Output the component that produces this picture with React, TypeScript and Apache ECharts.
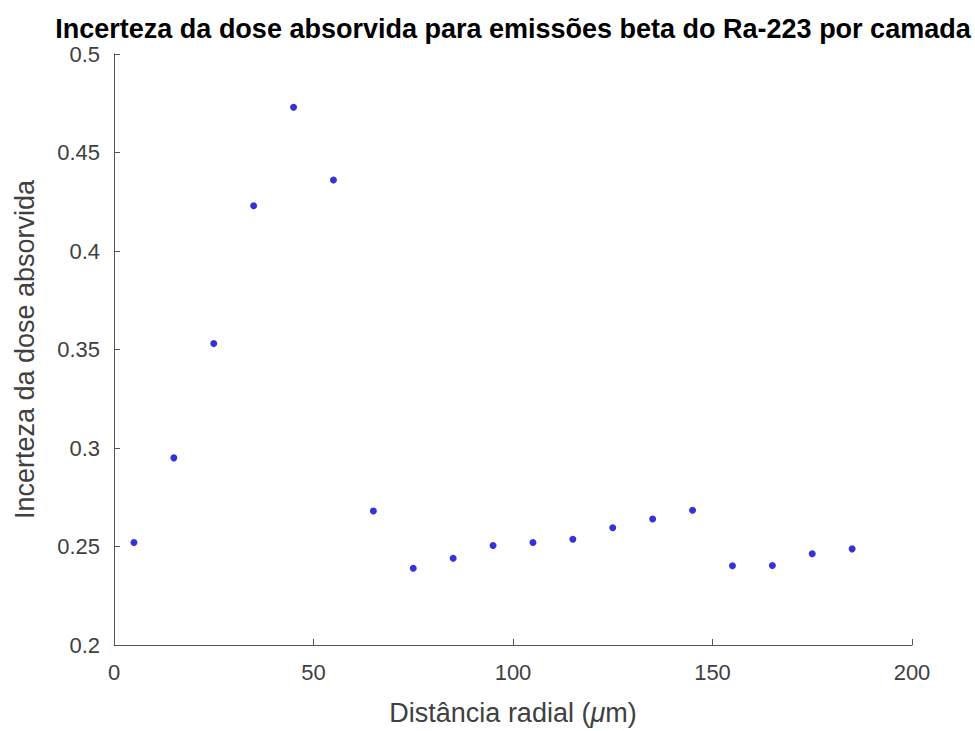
import React, { useEffect, useRef } from "react";
import * as echarts from "echarts";

const distances = [5, 15, 25, 35, 45, 55, 65, 75, 85, 95, 105, 115, 125, 135, 145, 155, 165, 175, 185];
const uncertainty = [0.252, 0.295, 0.353, 0.423, 0.473, 0.436, 0.268, 0.239, 0.244, 0.2505, 0.252, 0.2537, 0.2595, 0.264, 0.2684, 0.2402, 0.2404, 0.2463, 0.2488];

const titleText = "Incerteza da dose absorvida para emissões beta do Ra-223 por camada";
const yName = "Incerteza da dose absorvida";

export default function App() {
  const ref = useRef<HTMLDivElement>(null);
  useEffect(() => {
    if (!ref.current) return;
    const chart = echarts.init(ref.current, null, { renderer: "svg" });
    const font = "'Liberation Sans', Arial, Helvetica, sans-serif";
    const grey = "#404040";
    chart.setOption({
      animation: false,
      backgroundColor: "#ffffff",
      title: {
        text: titleText,
        left: 513,
        textAlign: "center",
        top: 15,
        padding: 0,
        textStyle: { fontFamily: font, fontSize: 27, lineHeight: 27, fontWeight: "bold", color: "#000" },
      },
      grid: { left: 114, right: 63, top: 54, bottom: 82.5, containLabel: false },
      xAxis: {
        type: "value",
        min: 0,
        max: 200,
        interval: 50,
        name: "Distância radial ({it|μ}m)",
        nameLocation: "middle",
        nameGap: 54,
        nameTextStyle: {
          fontFamily: font,
          fontSize: 27,
          color: grey,
          rich: { it: { fontFamily: font, fontSize: 27, fontStyle: "italic", color: grey } },
        },
        axisLine: { show: true, lineStyle: { color: "#555", width: 1 } },
        axisTick: { show: true, inside: true, length: 6, lineStyle: { color: "#555" } },
        axisLabel: { fontFamily: font, fontSize: 22, color: grey, margin: 16 },
        splitLine: { show: false },
      },
      yAxis: {
        type: "value",
        min: 0.2,
        max: 0.5,
        interval: 0.05,
        name: yName,
        nameLocation: "middle",
        nameGap: 76,
        nameTextStyle: { fontFamily: font, fontSize: 27, color: grey },
        axisLine: { show: true, lineStyle: { color: "#555", width: 1 } },
        axisTick: { show: true, inside: true, length: 6, lineStyle: { color: "#555" } },
        axisLabel: {
          fontFamily: font,
          fontSize: 22,
          lineHeight: 22,
          color: grey,
          margin: 14,
          formatter: (v: number) => String(parseFloat(v.toFixed(2))),
        },
        splitLine: { show: false },
      },
      series: [
        {
          type: "scatter",
          data: distances.map((d, i) => [d, uncertainty[i]]),
          symbol: "circle",
          symbolSize: 7,
          itemStyle: { color: "#0000d0" },
        },
      ],
    });
    return () => chart.dispose();
  }, []);
  return <div ref={ref} style={{ width: 975, height: 731, position: "absolute", left: 0, top: 0 }} />;
}
